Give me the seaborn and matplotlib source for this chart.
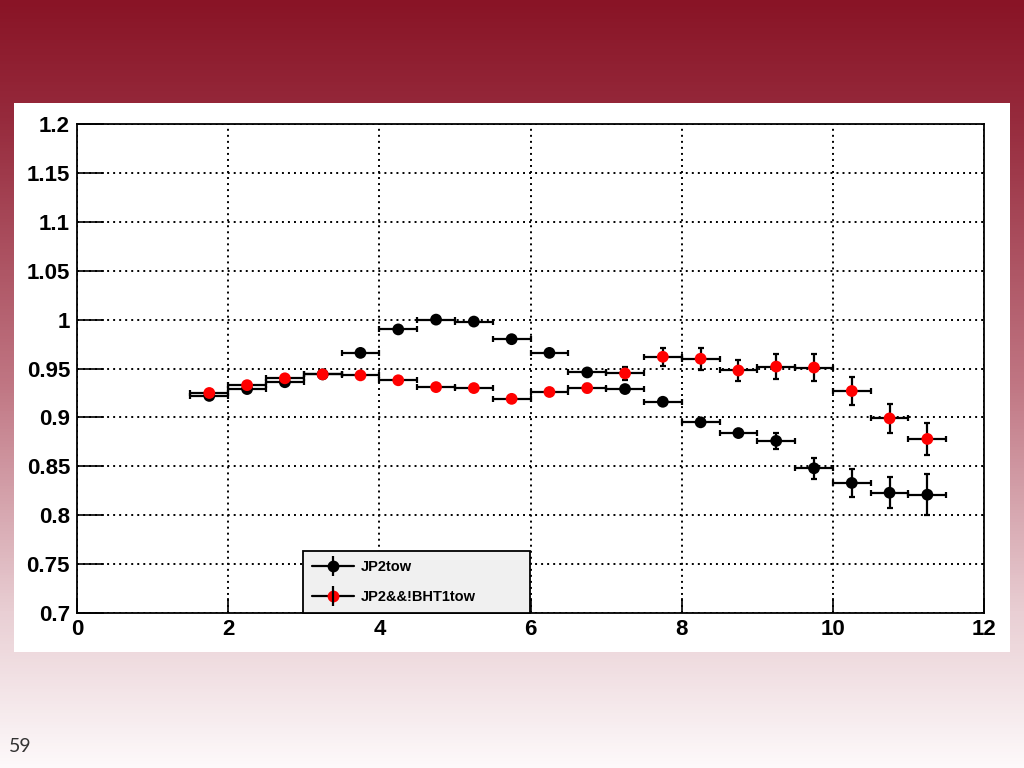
import numpy as np
import pandas as pd
import matplotlib
matplotlib.use("Agg")
import matplotlib.pyplot as plt
from matplotlib.lines import Line2D
from matplotlib.colors import LinearSegmentedColormap
from matplotlib.ticker import MultipleLocator
import seaborn as sns

# bin centres (width 0.5)
bin_centers = [1.75, 2.25, 2.75, 3.25, 3.75, 4.25, 4.75, 5.25, 5.75, 6.25,
               6.75, 7.25, 7.75, 8.25, 8.75, 9.25, 9.75, 10.25, 10.75, 11.25]
bin_halfwidth = 0.25

jp2tow = [0.922, 0.929, 0.936, 0.944, 0.966, 0.990, 1.000, 0.998, 0.980, 0.966,
          0.946, 0.929, 0.916, 0.895, 0.884, 0.876, 0.848, 0.833, 0.823, 0.821]
jp2tow_err = [0.002, 0.002, 0.002, 0.002, 0.002, 0.002, 0.002, 0.002, 0.002, 0.002,
              0.002, 0.002, 0.002, 0.003, 0.003, 0.008, 0.011, 0.014, 0.016, 0.021]

jp2_nobht = [0.925, 0.933, 0.940, 0.944, 0.943, 0.938, 0.931, 0.930, 0.919, 0.926,
             0.930, 0.945, 0.962, 0.960, 0.948, 0.952, 0.951, 0.927, 0.899, 0.878]
jp2_nobht_err = [0.002, 0.002, 0.002, 0.002, 0.002, 0.002, 0.002, 0.002, 0.002, 0.003,
                 0.004, 0.007, 0.009, 0.011, 0.011, 0.013, 0.014, 0.014, 0.015, 0.016]

series_names = ["JP2tow", "JP2&&!BHT1tow"]
series_colors = {"JP2tow": "black", "JP2&&!BHT1tow": "#ff0000"}

df = pd.concat([
    pd.DataFrame({"x": bin_centers, "y": jp2tow, "err": jp2tow_err, "series": series_names[0]}),
    pd.DataFrame({"x": bin_centers, "y": jp2_nobht, "err": jp2_nobht_err, "series": series_names[1]}),
], ignore_index=True)

sns.set_style("white")
plt.rcParams["font.family"] = ["Liberation Sans", "DejaVu Sans"]

fig = plt.figure(figsize=(10.24, 7.68), dpi=100)

# slide background gradient
bg = fig.add_axes([0, 0, 1, 1], zorder=-10)
grad_cmap = LinearSegmentedColormap.from_list("slide", [
    (0.0, (137/255, 20/255, 38/255)),
    (0.15, (150/255, 42/255, 60/255)),
    (0.5, (192/255, 118/255, 131/255)),
    (0.8, (233/255, 207/255, 212/255)),
    (1.0, (253/255, 249/255, 250/255)),
])
bg.imshow(np.linspace(0, 1, 256).reshape(-1, 1), aspect="auto", cmap=grad_cmap,
          extent=[0, 1, 0, 1], origin="upper")
bg.set_axis_off()

# white canvas behind the plot
panel = fig.add_axes([0.0137, 0.151, 0.9727, 0.715], zorder=-5)
panel.set_facecolor("white")
panel.set_xticks([])
panel.set_yticks([])
for s in panel.spines.values():
    s.set_visible(False)

ax = fig.add_axes([0.0752, 0.2018, 0.8858, 0.6367])
ax.set_facecolor("white")

for name in series_names:
    sub = df[df["series"] == name]
    ax.errorbar(sub["x"], sub["y"], xerr=bin_halfwidth, yerr=sub["err"], fmt="none",
                ecolor="black", elinewidth=1.6, capsize=2, capthick=1.6, zorder=2)

sns.scatterplot(data=df, x="x", y="y", hue="series", palette=series_colors,
                s=72, edgecolor="none", legend=False, zorder=3, ax=ax)

ax.set_xlim(0, 12)
ax.set_ylim(0.7, 1.2)
ax.set_xlabel("")
ax.set_ylabel("")
ax.xaxis.set_major_locator(MultipleLocator(2))
ax.xaxis.set_minor_locator(MultipleLocator(0.5))
ax.yaxis.set_major_locator(MultipleLocator(0.05))
ax.yaxis.set_minor_locator(MultipleLocator(0.01))
ax.yaxis.set_major_formatter(plt.FuncFormatter(lambda v, p: f"{v:.2f}".rstrip("0").rstrip(".")))
ax.xaxis.set_major_formatter(plt.FuncFormatter(lambda v, p: f"{v:.0f}"))

ax.tick_params(axis="x", which="major", direction="in", length=10.5, width=1.2,
               labelsize=16, pad=4, labelcolor="black", color="black")
ax.tick_params(axis="x", which="minor", direction="in", length=5.3, width=1.2, color="black")
ax.tick_params(axis="y", which="major", direction="in", length=19.5, width=1.2,
               labelsize=16, pad=5, labelcolor="black", color="black")
ax.tick_params(axis="y", which="minor", direction="in", length=9.8, width=1.2, color="black")
ax.tick_params(bottom=True, left=True, top=False, right=False)
for lab in ax.get_xticklabels() + ax.get_yticklabels():
    lab.set_fontweight("bold")

ax.grid(True, which="major", color="black", linestyle=(0, (1, 2.1)), linewidth=1.4)
ax.set_axisbelow(True)
for s in ax.spines.values():
    s.set_visible(True)
    s.set_color("black")
    s.set_linewidth(1.3)

handles = []
for name in series_names:
    line = Line2D([], [], color="black", lw=1.6, marker="o", markersize=8.5,
                  markerfacecolor=series_colors[name], markeredgecolor="none")
    bar = Line2D([], [], color="black", marker="|", markersize=14, markeredgewidth=1.6,
                 ls="none")
    handles.append((line, bar))

leg = ax.legend(handles, series_names, loc="lower left",
                bbox_to_anchor=(0.249, 0.0, 0.2505, 0.1265), mode="expand",
                frameon=True, fancybox=False, facecolor="#f0f0f0", edgecolor="black",
                framealpha=1, handlelength=2.9, handletextpad=0.5, labelspacing=1.1,
                borderpad=0.6, borderaxespad=0,
                prop={"weight": "bold", "size": 10.5})
leg.get_frame().set_linewidth(1.3)
for t in leg.get_texts():
    t.set_color("black")

fig.text(0.009, (768 - 747) / 768, "59", fontsize=14, color="#333333",
         ha="left", va="center", family=["Lato", "DejaVu Sans"])

fig.savefig("out.png", dpi=100)
